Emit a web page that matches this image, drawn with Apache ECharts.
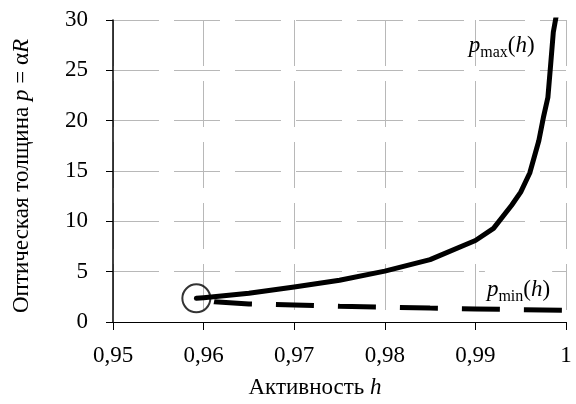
<!DOCTYPE html>
<html>
<head>
<meta charset="utf-8">
<script src="https://cdn.jsdelivr.net/npm/echarts@6/dist/echarts.min.js"></script>
<style>
html,body{margin:0;padding:0;background:#fff;}
#chart{width:576px;height:404px;}
</style>
</head>
<body>
<div id="chart"></div>
<script>
// ---- data ----
const hMax = [0.9592, 0.96, 0.965, 0.97, 0.975, 0.98, 0.985, 0.99, 0.992, 0.994, 0.995, 0.996, 0.997, 0.9975, 0.998, 0.9983, 0.9986, 0.999];
const pMax = [2.35, 2.42, 2.85, 3.47, 4.15, 5.05, 6.2, 8.1, 9.3, 11.6, 12.9, 14.8, 18.0, 20.3, 22.3, 25.5, 28.8, 30.8];
const hMin = [0.9592, 0.9612, 0.965, 0.97, 0.975, 0.98, 0.985, 0.99, 0.995, 1.0];
const pMin = [2.35, 2.0, 1.8, 1.68, 1.56, 1.48, 1.38, 1.3, 1.22, 1.15];
const circlePoint = [0.9592, 2.35];
const xTicks = ['0,95', '0,96', '0,97', '0,98', '0,99', '1'];
const yTicks = ['0', '5', '10', '15', '20', '25', '30'];
const labelMaxPos = [0.9929, 27.4];
const labelMinPos = [0.99476, 3.45];

const FONT = '"Liberation Serif", "Times New Roman", serif';
const zip = (a, b) => a.map((v, i) => [v, b[i]]);

const rich = {
  i: {fontFamily: FONT, fontStyle: 'italic', fontSize: 23, lineHeight: 29, color: '#000'},
  n: {fontFamily: FONT, fontSize: 23, lineHeight: 29, color: '#000'},
  s: {fontFamily: FONT, fontSize: 16, lineHeight: 16, verticalAlign: 'bottom', color: '#000'}
};

const chart = echarts.init(document.getElementById('chart'), null, {renderer: 'canvas'});
chart.setOption({
  animation: false,
  backgroundColor: '#fff',
  grid: {left: 113, right: 10, top: 20, bottom: 82, containLabel: false},
  xAxis: {
    type: 'value', min: 0.95, max: 1, interval: 0.01,
    axisLine: {show: true, onZero: false, lineStyle: {color: '#000', width: 1}},
    axisTick: {show: true, length: 8, lineStyle: {color: '#000'}},
    axisLabel: {
      margin: 22, color: '#000', fontFamily: FONT, fontSize: 23,
      formatter: v => xTicks[Math.round((v - 0.95) / 0.01)]
    },
    splitLine: {show: true, lineStyle: {color: '#b8b8b8', width: 1, type: [46, 15]}}
  },
  yAxis: {
    type: 'value', min: 0, max: 30, interval: 5,
    axisLine: {show: true, lineStyle: {color: '#000', width: 1.5}},
    axisTick: {show: true, length: 7, lineStyle: {color: '#000'}},
    axisLabel: {
      margin: 25, color: '#000', fontFamily: FONT, fontSize: 23,
      formatter: v => yTicks[Math.round(v / 5)]
    },
    splitLine: {show: true, lineStyle: {color: '#b8b8b8', width: 1, type: [46, 15]}}
  },
  graphic: [
    {
      type: 'text',
      x: 315, y: 388,
      style: {
        text: '{n|Активность }{i|h}',
        rich: rich,
        align: 'center', verticalAlign: 'middle'
      }
    },
    {
      type: 'text',
      x: 22, y: 176,
      rotation: Math.PI / 2,
      style: {
        text: '{n|Оптическая толщина }{i|p}{n| = α}{i|R}',
        rich: rich,
        align: 'center', verticalAlign: 'middle'
      }
    }
  ],
  series: [
    {
      type: 'line',
      data: zip(hMin, pMin),
      symbol: 'none',
      smooth: false,
      lineStyle: {color: '#000', width: 5, type: [38, 24], dashOffset: 44, cap: 'butt'},
      z: 2,
      markPoint: {
        symbol: 'rect', symbolSize: 1,
        itemStyle: {color: 'rgba(0,0,0,0)'},
        label: {
          show: true, position: 'inside',
          formatter: '{i|p}{s|min}{n|(}{i|h}{n|)}',
          rich: rich, backgroundColor: '#fff', padding: [6, 2, 0, 2]
        },
        data: [{coord: labelMinPos}]
      }
    },
    {
      type: 'line',
      data: zip(hMax, pMax),
      symbol: 'none',
      smooth: false,
      lineStyle: {color: '#000', width: 5, cap: 'round', join: 'round'},
      z: 3,
      markPoint: {
        symbol: 'rect', symbolSize: 1,
        itemStyle: {color: 'rgba(0,0,0,0)'},
        label: {
          show: true, position: 'inside',
          formatter: '{i|p}{s|max}{n|(}{i|h}{n|)}',
          rich: rich
        },
        data: [{coord: labelMaxPos}]
      }
    },
    {
      type: 'scatter',
      data: [circlePoint],
      symbol: 'circle',
      symbolSize: 28,
      itemStyle: {color: 'rgba(0,0,0,0)', borderColor: '#000', borderWidth: 2},
      z: 4
    }
  ]
});
</script>
</body>
</html>
